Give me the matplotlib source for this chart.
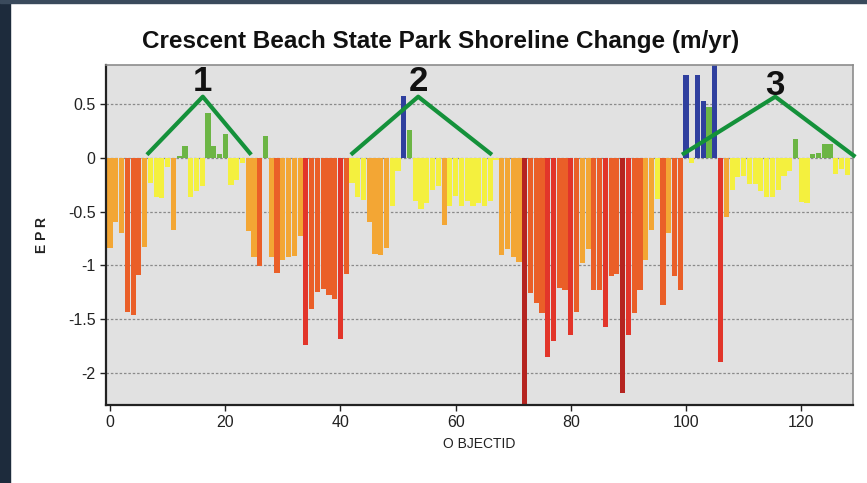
import matplotlib
matplotlib.use("Agg")
import matplotlib.pyplot as plt
from matplotlib.patches import Rectangle

# EPR (m/yr) per transect, OBJECTID 0..128
object_id = list(range(129))
epr = [
    -0.84, -0.60, -0.70, -1.43, -1.46, -1.09, -0.83, -0.23, -0.36, -0.37,
    -0.08, -0.67, 0.02, 0.11, -0.36, -0.31, -0.26, 0.42, 0.11, 0.04,
    0.22, -0.25, -0.21, -0.05, -0.68, -0.92, -1.01, 0.20, -0.92, -1.07,
    -0.95, -0.92, -0.91, -0.73, -1.74, -1.41, -1.25, -1.22, -1.28, -1.31,
    -1.69, -1.08, -0.23, -0.36, -0.39, -0.60, -0.89, -0.90, -0.84, -0.45,
    -0.12, 0.58, 0.26, -0.40, -0.48, -0.42, -0.30, -0.26, -0.62, -0.45,
    -0.35, -0.45, -0.40, -0.45, -0.42, -0.45, -0.40, -0.02, -0.90, -0.85,
    -0.92, -0.97, -2.40, -1.26, -1.35, -1.44, -1.85, -1.70, -1.21, -1.23,
    -1.65, -1.43, -0.98, -0.85, -1.23, -1.23, -1.57, -1.10, -1.08, -2.19,
    -1.65, -1.44, -1.23, -0.95, -0.67, -0.38, -1.37, -0.70, -1.10, -1.23,
    0.77, -0.05, 0.77, 0.53, 0.47, 0.95, -1.90, -0.55, -0.30, -0.18,
    -0.17, -0.24, -0.24, -0.31, -0.36, -0.36, -0.30, -0.17, -0.12, 0.18,
    -0.41, -0.42, 0.04, 0.05, 0.13, 0.13, -0.15, -0.10, -0.16,
]

# value classes -> colours
class_edges = [-2.0, -1.5, -1.0, -0.5, 0.0, 0.5]
class_colors = ["#b52420", "#e2352a", "#ea5f28", "#f3a634", "#f4f03e", "#6cb545", "#2f3f9e"]

# the three marked sections (green carets)
section_labels = ["1", "2", "3"]
section_x = [[6.4, 16.1, 24.5], [41.8, 53.5, 66.3], [99.3, 115.5, 129.4]]
section_y = [[0.03, 0.57, 0.03], [0.03, 0.57, 0.03], [0.03, 0.57, 0.01]]
label_y = [0.71, 0.71, 0.67]

yticks = [0.5, 0, -0.5, -1, -1.5, -2]
ytick_labels = ["0.5", "0", "-0.5", "-1", "-1.5", "-2"]
xticks = [0, 20, 40, 60, 80, 100, 120]


def pick_color(v):
    for edge, c in zip(class_edges, class_colors):
        if v < edge:
            return c
    return class_colors[-1]


font = ["Liberation Sans", "DejaVu Sans"]

fig = plt.figure(figsize=(8.67, 4.83), dpi=100)
fig.patch.set_facecolor("white")
# dark frame bits of the screenshot
fig.add_artist(Rectangle((0, 0), 0.011, 1, transform=fig.transFigure, color="#1d2b3c", zorder=0))
fig.add_artist(Rectangle((0, 0.993), 1, 0.007, transform=fig.transFigure, color="#3a4a5c", zorder=0))

ax = fig.add_axes([0.1223, 0.1615, 0.8616, 0.7039])
ax.set_facecolor("#e1e1e1")

colors = [pick_color(v) for v in epr]
ax.bar(object_id, epr, width=0.9, color=colors, linewidth=0, zorder=2)

for yt in yticks:
    ax.axhline(yt, color="#8a8a8a", linestyle=(0, (2, 1.5)), linewidth=0.9, zorder=1)

for lab, xs, ys, ly in zip(section_labels, section_x, section_y, label_y):
    ax.plot(xs, ys, color="#14913a", linewidth=3, solid_capstyle="butt", zorder=4, clip_on=False)
    ax.text(xs[1], ly, lab, fontsize=25, fontweight="bold", color="#111111",
            ha="center", va="center", family=font, zorder=5)

ax.set_xlim(-0.7, 129)
ax.set_ylim(-2.3, 0.865)
ax.set_xticks(xticks)
ax.set_yticks(yticks)
ax.set_yticklabels(ytick_labels)
ax.tick_params(direction="out", length=4, width=1, colors="#222222", labelsize=11.5)
for lbl in ax.get_xticklabels() + ax.get_yticklabels():
    lbl.set_family(font)

for side in ["top", "right"]:
    ax.spines[side].set_color("#8c8c8c")
    ax.spines[side].set_linewidth(1.2)
for side in ["left", "bottom"]:
    ax.spines[side].set_color("#222222")
    ax.spines[side].set_linewidth(1.6)

ax.set_xlabel("O BJECTID", fontsize=10, family=font, color="#222222", labelpad=5)
ax.set_ylabel("E P R", fontsize=10, family=font, fontweight="bold", color="#222222", labelpad=14)

fig.text(0.508, 0.915, "Crescent Beach State Park Shoreline Change (m/yr)", ha="center", va="center",
         fontsize=17.5, fontweight="bold", family=font, color="#111111")

fig.savefig("out.png", dpi=100)
